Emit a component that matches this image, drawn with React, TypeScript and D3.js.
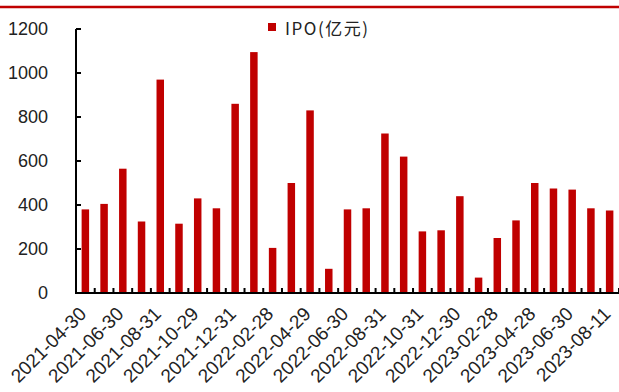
import React from "react";
import * as d3 from "d3";

const categories = [
  "2021-04-30","2021-05-31","2021-06-30","2021-07-30","2021-08-31","2021-09-30",
  "2021-10-29","2021-11-30","2021-12-31","2022-01-28","2022-02-28","2022-03-31",
  "2022-04-29","2022-05-31","2022-06-30","2022-07-29","2022-08-31","2022-09-30",
  "2022-10-31","2022-11-30","2022-12-30","2023-01-31","2023-02-28","2023-03-31",
  "2023-04-28","2023-05-31","2023-06-30","2023-07-31","2023-08-11",
];
const ipoValues = [
  380, 405, 565, 325, 970, 315, 430, 385, 860, 1095, 205, 500, 830, 110, 380,
  385, 725, 620, 280, 285, 440, 70, 250, 330, 500, 475, 470, 385, 375,
];
const yTicks = [0, 200, 400, 600, 800, 1000, 1200];
const seriesName = "IPO(亿元)";

const W = 619;
const H = 392;
const LEFT = 76;
const RIGHT = 619;
const TOP = 29;
const BOTTOM = 293;
const RED = "#C00000";

export default function App() {
  const x = d3.scaleBand<string>().domain(categories).range([LEFT, RIGHT]).paddingInner(0.6).paddingOuter(0.3);
  const y = d3.scaleLinear().domain([0, 1200]).range([BOTTOM, TOP]);
  const step = x.step();
  const boundaries = d3.range(categories.length + 1).map((k) => LEFT + k * step);
  const font = "'Liberation Sans', Arial, sans-serif";

  return (
    <svg width={W} height={H} style={{ position: "absolute", left: 0, top: 0, background: "#fff" }}>
      <rect x={0} y={0} width={W} height={H} fill="#fff" />
      <line x1={0} x2={W} y1={7} y2={7} stroke={RED} strokeWidth={2.5} />

      {/* legend */}
      <rect x={268} y={23} width={8} height={8} fill={RED} />
      <text x={285} y={35} fontSize={17} fontFamily="'Noto Sans CJK SC', 'Liberation Sans', sans-serif" fill="#222" textLength={83} lengthAdjust="spacing">
        {seriesName}
      </text>

      {/* bars */}
      {categories.map((c, i) => (
        <rect key={c} x={x(c)} y={y(ipoValues[i])} width={x.bandwidth()} height={BOTTOM - y(ipoValues[i])} fill={RED} />
      ))}

      {/* y axis */}
      <line x1={LEFT} x2={LEFT} y1={TOP} y2={BOTTOM} stroke="#000" strokeWidth={2} />
      {yTicks.map((t) => (
        <g key={t}>
          <line x1={LEFT} x2={LEFT + 5} y1={y(t)} y2={y(t)} stroke="#000" strokeWidth={2} />
          <text x={48} y={y(t)} dy="0.35em" textAnchor="end" fontSize={18} fontFamily={font} fill="#222">
            {t}
          </text>
        </g>
      ))}

      {/* x axis */}
      <line x1={LEFT - 1} x2={RIGHT} y1={BOTTOM} y2={BOTTOM} stroke="#000" strokeWidth={2} />
      {boundaries.map((bx, k) => (
        <line key={k} x1={bx} x2={bx} y1={BOTTOM} y2={BOTTOM - 5} stroke="#000" strokeWidth={2} />
      ))}
      {categories.map((c, i) =>
        i % 2 === 0 ? (
          <text
            key={c}
            transform={`translate(${x(c)! + x.bandwidth() / 2 + 2},${BOTTOM + 22}) rotate(-45)`}
            textAnchor="end"
            fontSize={19}
            fontFamily={font}
            fill="#222"
          >
            {c}
          </text>
        ) : null
      )}
    </svg>
  );
}
